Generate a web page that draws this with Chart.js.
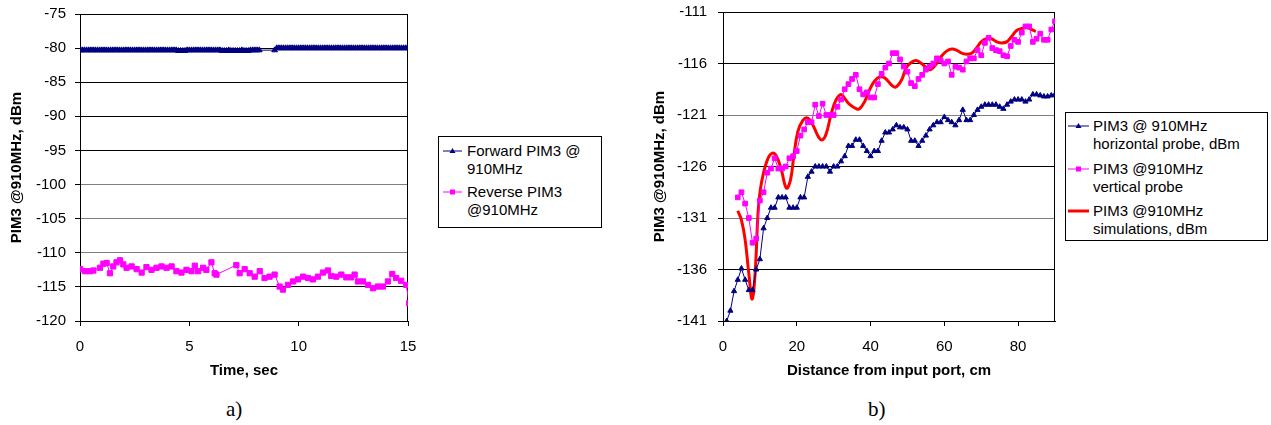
<!DOCTYPE html>
<html>
<head>
<meta charset="utf-8">
<script src="https://cdn.jsdelivr.net/npm/chart.js@4.4.0/dist/chart.umd.min.js"></script>
<style>
  body { margin: 0; background: #fff; width: 1271px; height: 425px; position: relative; overflow: hidden;
         font-family: "Liberation Sans", Arial, sans-serif; color: #000; }
  canvas { position: absolute; top: 0; }
  .legend { position: absolute; box-sizing: border-box; border: 1px solid #000; background: #fff;
            font-size: 15px; line-height: 18px; }
  .item { position: absolute; }
  .item svg { position: absolute; top: 0; }
  .caption { position: absolute; font-family: "Liberation Serif", "Times New Roman", serif; font-size: 21px; line-height: 24px; }
</style>
</head>
<body>
<canvas id="chartA" width="420" height="385" style="left:0;width:420px;height:385px"></canvas>
<canvas id="chartB" width="425" height="385" style="left:640px;width:425px;height:385px"></canvas>

<div class="legend" style="left:438px;top:136px;width:164px;height:92px">
  <div class="item" style="left:4px;top:5px">
    <svg width="20" height="18" style="left:0"><line x1="0" y1="9" x2="19" y2="9" stroke="#000080" stroke-width="1"/><polygon points="9.5,6 12.5,11 6.5,11" fill="#000080"/></svg>
    <div style="margin-left:24px">Forward PIM3 @<br>910MHz</div>
  </div>
  <div class="item" style="left:4px;top:46px">
    <svg width="20" height="18" style="left:0"><line x1="0" y1="9" x2="19" y2="9" stroke="#ff00ff" stroke-width="1"/><rect x="7" y="6.5" width="5" height="5" fill="#ff00ff"/></svg>
    <div style="margin-left:24px">Reverse PIM3<br>@910MHz</div>
  </div>
</div>

<div class="legend" style="left:1065px;top:112px;width:203px;height:129px">
  <div class="item" style="left:2px;top:4px">
    <svg width="22" height="18" style="left:0"><line x1="0" y1="9" x2="21" y2="9" stroke="#000080" stroke-width="1"/><polygon points="10.5,6 13.5,11 7.5,11" fill="#000080"/></svg>
    <div style="margin-left:25px">PIM3 @ 910MHz<br>horizontal probe, dBm</div>
  </div>
  <div class="item" style="left:2px;top:47px">
    <svg width="22" height="18" style="left:0"><line x1="0" y1="9" x2="21" y2="9" stroke="#ff00ff" stroke-width="1"/><rect x="8" y="6.5" width="5" height="5" fill="#ff00ff"/></svg>
    <div style="margin-left:25px">PIM3 @910MHz<br>vertical probe</div>
  </div>
  <div class="item" style="left:2px;top:89px">
    <svg width="22" height="18" style="left:0"><line x1="0" y1="9" x2="21" y2="9" stroke="#ff0000" stroke-width="3"/></svg>
    <div style="margin-left:25px">PIM3 @910MHz<br>simulations, dBm</div>
  </div>
</div>

<div class="caption" style="left:226px;top:397px">a)</div>
<div class="caption" style="left:868px;top:397px">b)</div>

<script>
// ---- chart a) : PIM3 versus time ----
const fwdTime = [
  0, 0.1, 0.2, 0.3, 0.4, 0.5, 0.6, 0.7, 0.8, 0.9,
  1, 1.1, 1.2, 1.3, 1.4, 1.5, 1.6, 1.7, 1.8, 1.9,
  2, 2.1, 2.2, 2.3, 2.4, 2.5, 2.6, 2.7, 2.8, 2.9,
  3, 3.1, 3.2, 3.3, 3.4, 3.5, 3.6, 3.7, 3.8, 3.9,
  4, 4.1, 4.2, 4.3, 4.4, 4.5, 4.6, 4.7, 4.8, 4.9,
  5, 5.1, 5.2, 5.3, 5.4, 5.5, 5.6, 5.7, 5.8, 5.9,
  6, 6.1, 6.2, 6.3, 6.4, 6.5, 6.6, 6.7, 6.8, 6.9,
  7, 7.1, 7.2, 7.3, 7.4, 7.5, 7.6, 7.7, 7.8, 7.9,
  8, 8.1, 8.2,
  8.9, 9, 9.1, 9.2, 9.3, 9.4, 9.5, 9.6, 9.7, 9.8, 9.9,
  10, 10.1, 10.2, 10.3, 10.4, 10.5, 10.6, 10.7, 10.8, 10.9,
  11, 11.1, 11.2, 11.3, 11.4, 11.5, 11.6, 11.7, 11.8, 11.9,
  12, 12.1, 12.2, 12.3, 12.4, 12.5, 12.6, 12.7, 12.8, 12.9,
  13, 13.1, 13.2, 13.3, 13.4, 13.5, 13.6, 13.7, 13.8, 13.9,
  14, 14.1, 14.2, 14.3, 14.4, 14.5, 14.6, 14.7, 14.8, 14.9,
  15];
const fwdPim = [
  -80.3, -80.3, -80.3, -80.3, -80.3, -80.3, -80.3, -80.3, -80.3, -80.3,
  -80.3, -80.3, -80.3, -80.3, -80.3, -80.3, -80.3, -80.3, -80.3, -80.3,
  -80.3, -80.3, -80.3, -80.3, -80.3, -80.3, -80.3, -80.3, -80.3, -80.3,
  -80.3, -80.3, -80.3, -80.3, -80.3, -80.3, -80.3, -80.3, -80.3, -80.3,
  -80.3, -80.3, -80.3, -80.3, -80.3, -80.4, -80.4, -80.4, -80.4, -80.3,
  -80.3, -80.3, -80.3, -80.3, -80.3, -80.3, -80.3, -80.3, -80.3, -80.3,
  -80.3, -80.3, -80.3, -80.3, -80.3, -80.4, -80.4, -80.4, -80.3, -80.4,
  -80.4, -80.4, -80.4, -80.4, -80.3, -80.4, -80.4, -80.4, -80.3, -80.3,
  -80.3, -80.3, -80.3,
  -80.3, -80.0, -80.0, -80.0, -80.0, -80.0, -80.0, -80.0, -80.0, -80.0, -80.0,
  -80.0, -80.0, -80.0, -80.0, -80.0, -80.0, -80.0, -80.0, -80.0, -80.0,
  -80.0, -80.0, -80.0, -80.0, -80.0, -80.0, -80.0, -80.0, -80.0, -80.0,
  -80.0, -80.0, -80.0, -80.0, -80.0, -80.0, -80.0, -80.0, -80.0, -80.0,
  -80.0, -80.0, -80.0, -80.0, -80.0, -80.0, -80.0, -80.0, -80.0, -80.0,
  -80.0, -80.0, -80.0, -80.0, -80.0, -80.0, -80.0, -80.0, -80.0, -80.0,
  -80.0];

const revTime = [0, 0.23, 0.46, 0.61, 0.91, 1.07, 1.22, 1.37, 1.52, 1.67, 1.83, 1.98, 2.13, 2.36, 2.59, 2.82,
  3.04, 3.27, 3.5, 3.73, 3.96, 4.19, 4.41, 4.64, 4.87, 5.1, 5.25, 5.4, 5.63, 5.78, 6.01, 6.16, 6.24, 7.15, 7.3,
  7.53, 7.76, 7.99, 8.22, 8.44, 8.67, 8.9, 9.13, 9.28, 9.51, 9.74, 9.97, 10.2, 10.43, 10.65, 10.88, 11.11, 11.34,
  11.49, 11.72, 11.95, 12.18, 12.4, 12.56, 12.71, 12.94, 13.17, 13.4, 13.62, 13.85, 14.08, 14.28, 14.46, 14.69,
  14.92, 15.05];
const revPim = [-112.4, -112.7, -112.7, -112.6, -112.2, -111.6, -111.5, -113, -112, -111.4, -111.1, -111.7, -112.2,
  -112, -112.4, -112.9, -112.1, -112.5, -112.2, -112, -112.2, -112, -112.7, -112.9, -112.5, -112.7, -111.9, -112.7,
  -112.2, -112.5, -111.4, -113, -113.2, -111.8, -113, -112.4, -113, -113.5, -112.7, -113.7, -113.5, -113.2, -114.95,
  -115.4, -114.7, -114.2, -113.9, -113.5, -113.7, -113.9, -113.5, -112.9, -112.6, -113.4, -113.5, -113.2, -113.6,
  -113.6, -113.2, -114.2, -114.2, -114.7, -115.2, -114.95, -114.95, -114.2, -113.1, -113.7, -114.1, -114.7, -117.4];

const timeTicks = [0, 5, 10, 15];
const pimTicksA = [-120, -115, -110, -105, -100, -95, -90, -85, -80, -75];

// ---- chart b) : PIM3 versus distance ----
const horDist = [1, 2, 3, 4, 5, 6, 7, 8, 9, 10, 11, 12, 13, 14, 15, 16, 17, 18, 19, 20, 21, 22, 23, 24, 25, 26,
  27, 28, 29, 30, 31, 32, 33, 34, 35, 36, 37, 38, 39, 40, 41, 42, 43, 44, 45, 46, 47, 48, 49, 50, 51, 52, 53, 54,
  55, 56, 57, 58, 59, 60, 61, 62, 63, 64, 65, 66, 67, 68, 69, 70, 71, 72, 73, 74, 75, 76, 77, 78, 79, 80, 81, 82,
  83, 84, 85, 86, 87, 88, 89, 90];
const horPim = [-141, -140, -138.1, -137, -135.9, -137, -138, -138, -136, -135, -132, -131, -130, -130, -129, -129,
  -129, -130, -130, -130, -129, -129, -127, -126.5, -126, -126, -126, -126, -126.5, -126, -126, -125.5, -125, -124,
  -124, -123.4, -123.4, -124, -124.5, -125, -124.5, -124.5, -123.5, -122.7, -122.7, -122.4, -122, -122.2, -122.2,
  -122.4, -123.5, -123.5, -124, -123.5, -123, -122.4, -122, -121.7, -121.7, -121.2, -121.5, -121.7, -122, -121.5,
  -120.5, -121.5, -121.5, -121, -120.5, -120.2, -120, -120, -120, -120, -120.2, -120.4, -120, -119.7, -119.5,
  -119.5, -119.5, -119.7, -119.5, -119, -119, -119.1, -119.2, -119.2, -119.1, -119];

const verDist = [4, 5, 6, 7, 8, 9, 10, 11, 12, 13, 14, 15, 16, 17, 18, 19, 20, 21, 22, 23, 24, 25, 26, 27, 28, 29,
  30, 31, 32, 33, 34, 35, 36, 37, 38, 39, 40, 41, 42, 43, 44, 45, 46, 47, 48, 49, 50, 51, 52, 53, 54, 55, 56, 57,
  58, 59, 60, 61, 62, 63, 64, 65, 66, 67, 68, 69, 70, 71, 72, 73, 74, 75, 76, 77, 78, 79, 80, 81, 82, 83, 84, 85,
  86, 87, 88, 89, 90];
const verPim = [-129, -128.5, -129.6, -131, -133.4, -133, -129.3, -128.5, -126.6, -126.2, -125.2, -126.2, -126.2,
  -126, -125.2, -125, -124.5, -123, -122.4, -121.7, -121.7, -120, -121.1, -119.9, -121, -121, -121, -120.2, -119.5,
  -118.5, -118, -117.5, -117.1, -118.5, -119, -118.8, -119.3, -119.3, -118, -117, -116.4, -116, -115, -115, -115.6,
  -116.3, -116.8, -117.9, -118.2, -117.5, -117.1, -116.6, -116.3, -116, -115.5, -115.7, -116, -115.8, -117.1,
  -116.3, -116.4, -116.6, -115.8, -115.5, -115.5, -114.7, -115.2, -114, -113.5, -114.5, -114.7, -114.8, -115.2,
  -115.3, -114.3, -113.7, -113.9, -113, -112.4, -112.4, -113.9, -113.6, -113.1, -113.7, -113.7, -112.7, -111.9];

const simDist = [4, 5, 6, 7, 7.9, 8.7, 9.5, 10.1, 11, 12.2, 13.4, 14.5, 15.8, 17.2, 18.3, 19.2, 20.3, 21.7, 23,
  24.4, 26, 27, 28, 29.4, 30.7, 32, 33, 34.4, 36.2, 37, 38.4, 39.8, 41.1, 42.5, 43.9, 45.7, 46.8, 48.4, 49.7, 51,
  52.4, 53.8, 55.2, 56.3, 57.9, 59.2, 60.6, 62, 63.3, 64.7, 66, 67.4, 68.7, 70, 71.4, 72.8, 74.2, 75.5, 76.9, 78.2,
  79.6, 81, 82.3, 83.7, 84.8];
const simPim = [-130.3, -131.2, -133.1, -136.4, -138.9, -136.4, -130.5, -128.3, -126.6, -125.2, -124.7, -125,
  -126.3, -128.1, -127.3, -125, -122.6, -121.5, -121.3, -122, -123.2, -123.4, -122.8, -120.8, -119.5, -119, -119.4,
  -120, -120.4, -120.4, -119.7, -118.5, -117.7, -117.3, -117.4, -118.1, -118.3, -117.6, -116.4, -115.9, -115.7,
  -116, -116.4, -116.6, -116, -115.3, -114.8, -114.6, -114.7, -115, -115.1, -115, -114.5, -113.9, -113.6, -113.6,
  -113.9, -114, -113.9, -113.4, -112.8, -112.6, -112.5, -112.7, -112.9];

const distTicks = [0, 20, 40, 60, 80];
const pimTicksB = [-141, -136, -131, -126, -121, -116, -111];

// ------------------------------------------------------------
Chart.defaults.font.family = '"Liberation Sans", Arial, sans-serif';
Chart.defaults.font.size = 15;
Chart.defaults.color = '#000';

const pairs = (xs, ys) => xs.map((x, i) => ({ x: x, y: ys[i] }));

// draws the black frame round the plot area
const frame = {
  id: 'frame',
  beforeDatasetsDraw(chart) {
    const { ctx, chartArea: a } = chart;
    ctx.save();
    ctx.strokeStyle = '#000';
    ctx.lineWidth = 1;
    ctx.strokeRect(Math.round(a.left) + 0.5, Math.round(a.top) + 0.5,
      Math.round(a.right - a.left) - 1, Math.round(a.bottom - a.top));
    ctx.restore();
  }
};

function axes(xTicks, yTicks, xMin, xMax, xTitle, yWidth, yPad, yTitlePad, grayLines) {
  return {
    x: {
      type: 'linear', min: xMin, max: xMax,
      afterBuildTicks: s => { s.ticks = xTicks.map(v => ({ value: v })); },
      // fixed axis height and no extra room for the end labels
      afterFit: s => { s.height = 64; s.paddingLeft = 0; s.paddingRight = 0; },
      grid: { drawOnChartArea: false, tickLength: 5, tickColor: '#000' },
      border: { color: '#000' },
      ticks: { padding: 12 },
      title: { display: true, text: xTitle, font: { weight: 'bold', size: 15 }, padding: { top: 0, bottom: 5 } }
    },
    y: {
      type: 'linear', min: yTicks[0], max: yTicks[yTicks.length - 1],
      afterBuildTicks: s => { s.ticks = yTicks.map(v => ({ value: v })); },
      afterFit: s => { s.width = yWidth; s.paddingTop = 0; s.paddingBottom = 0; },
      grid: {
        tickLength: 5, tickColor: '#000',
        color: c => grayLines.includes(c.tick && c.tick.value) ? '#808080' : '#000'
      },
      border: { color: '#000' },
      ticks: { padding: yPad },
      title: { display: true, text: 'PIM3 @910MHz, dBm', font: { weight: 'bold', size: 15 }, padding: { top: yTitlePad } }
    }
  };
}

new Chart(document.getElementById('chartA'), {
  type: 'line',
  data: {
    datasets: [
      {
        label: 'Forward PIM3 @ 910MHz', data: pairs(fwdTime, fwdPim),
        borderColor: '#000080', borderWidth: 1, pointStyle: 'triangle', pointRadius: 3.3,
        pointBackgroundColor: '#000080', pointBorderColor: '#000080', pointBorderWidth: 1
      },
      {
        label: 'Reverse PIM3 @910MHz', data: pairs(revTime, revPim),
        borderColor: '#ff00ff', borderWidth: 1, pointStyle: 'rect', pointRadius: 3.7,
        pointBackgroundColor: '#ff00ff', pointBorderColor: '#ff00ff', pointBorderWidth: 1
      }
    ]
  },
  options: {
    responsive: false, animation: false, devicePixelRatio: 1,
    layout: { padding: { top: 14, right: 12, left: 0, bottom: 0 } },
    plugins: { legend: { display: false }, tooltip: { enabled: false } },
    scales: axes(timeTicks, pimTicksA, 0, 15, 'Time, sec', 80, 9, 8, [-100, -105, -110])
  },
  plugins: [frame]
});

new Chart(document.getElementById('chartB'), {
  type: 'line',
  data: {
    datasets: [
      {
        label: 'PIM3 @ 910MHz horizontal probe, dBm', data: pairs(horDist, horPim),
        borderColor: '#000080', borderWidth: 1, pointStyle: 'triangle', pointRadius: 3,
        pointBackgroundColor: '#000080', pointBorderColor: '#000080', pointBorderWidth: 1
      },
      {
        label: 'PIM3 @910MHz vertical probe', data: pairs(verDist, verPim),
        borderColor: '#ff00ff', borderWidth: 1, pointStyle: 'rect', pointRadius: 3.3,
        pointBackgroundColor: '#ff00ff', pointBorderColor: '#ff00ff', pointBorderWidth: 1
      },
      {
        label: 'PIM3 @910MHz simulations, dBm', data: pairs(simDist, simPim),
        borderColor: '#ff0000', borderWidth: 3, pointRadius: 0, tension: 0.4
      }
    ]
  },
  options: {
    responsive: false, animation: false, devicePixelRatio: 1,
    layout: { padding: { top: 12, right: 10, left: 0, bottom: 0 } },
    plugins: { legend: { display: false }, tooltip: { enabled: false } },
    scales: axes(distTicks, pimTicksB, 0, 90, 'Distance from input port, cm', 83, 11, 11, [-121, -131])
  },
  plugins: [frame]
});
</script>
</body>
</html>
